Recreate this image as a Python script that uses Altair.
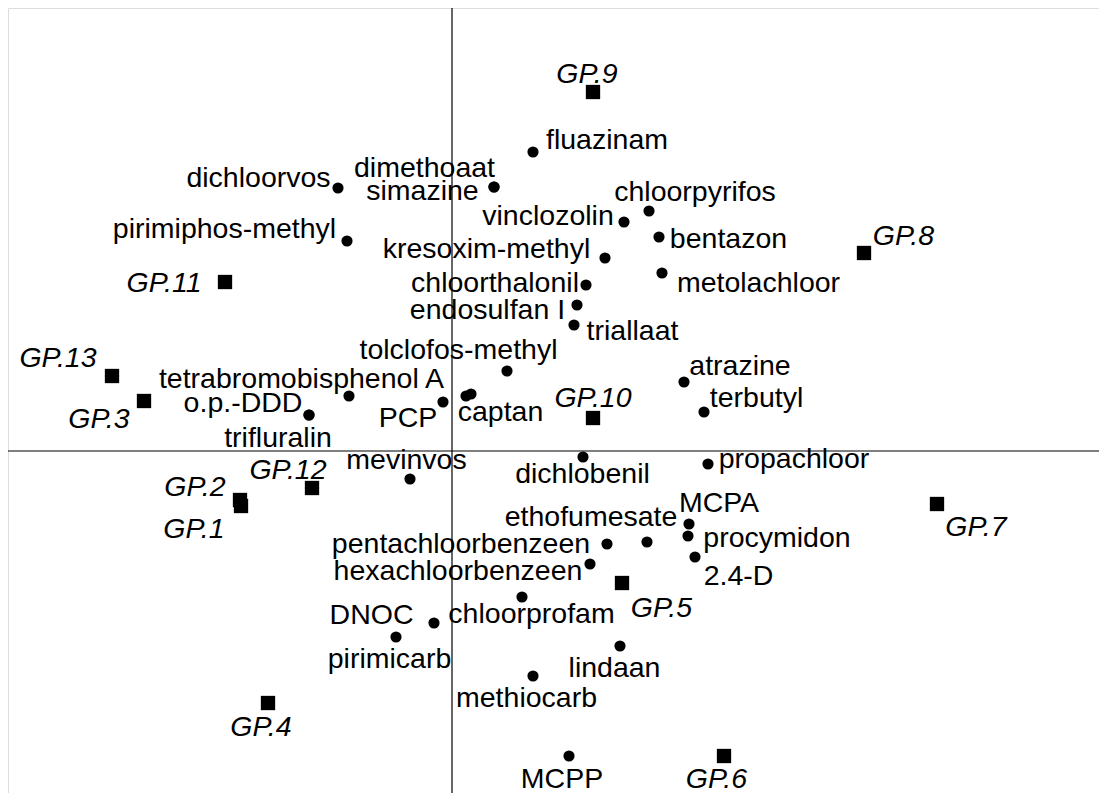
import altair as alt
import pandas as pd

# Compounds (circles): point coordinates and label anchor coordinates (data units)
compounds = ["fluazinam", "dichloorvos", "dimethoaat", "simazine", "pirimiphos-methyl",
             "chloorpyrifos", "vinclozolin", "bentazon", "kresoxim-methyl", "metolachloor",
             "chloorthalonil", "endosulfan I", "triallaat", "tolclofos-methyl", "atrazine",
             "terbutyl", "tetrabromobisphenol A", "PCP", "captan", "", "o.p.-DDD",
             "trifluralin", "mevinvos", "dichlobenil", "propachloor", "MCPA", "ethofumesate",
             "procymidon", "pentachloorbenzeen", "2.4-D", "hexachloorbenzeen", "chloorprofam",
             "DNOC", "pirimicarb", "lindaan", "methiocarb", "MCPP"]
comp_x = [0.81, -1.14, 0.42, 0.42, -1.05, 1.97, 1.72, 2.07, 1.53, 2.10, 1.34, 1.25, 1.22,
          0.55, 2.32, 2.52, -1.03, -0.09, 0.14, 0.19, -1.43, -1.43, -0.42, 1.31, 2.56,
          2.37, 1.95, 2.36, 1.55, 2.43, 1.38, 0.70, -0.18, -0.56, 1.68, 0.81, 1.17]
comp_y = [2.99, 2.63, 2.64, 2.64, 2.10, 2.40, 2.29, 2.14, 1.93, 1.78, 1.66, 1.46, 1.26,
          0.80, 0.69, 0.39, 0.55, 0.49, 0.55, 0.57, 0.36, 0.36, -0.28, -0.06, -0.13,
          -0.73, -0.91, -0.85, -0.93, -1.06, -1.13, -1.46, -1.72, -1.86, -1.95, -2.25, -3.05]
comp_lx = [1.55, -1.935, -0.275, -0.295, -2.275, 2.43, 0.96, 2.765, 0.345, 3.065, 0.43,
           0.355, 1.805, 0.065, 2.88, 3.045, -1.505, -0.44, 0.485, 0.19, -2.09, -1.74,
           -0.455, 1.305, 3.42, 2.67, 1.39, 3.25, 0.09, 2.865, 0.06, 0.795, -0.805, -0.625,
           1.625, 0.745, 1.10]
comp_ly = [3.02, 2.64, 2.74, 2.51, 2.13, 2.50, 2.26, 2.03, 1.93, 1.59, 1.59, 1.32, 1.11,
           0.92, 0.76, 0.44, 0.63, 0.24, 0.30, 0.57, 0.39, 0.04, -0.18, -0.32, -0.17,
           -0.61, -0.75, -0.96, -1.02, -1.34, -1.29, -1.72, -1.73, -2.17, -2.26, -2.56, -3.37]

# Sites (squares)
sites = ["GP.1", "GP.2", "GP.3", "GP.4", "GP.5", "GP.6", "GP.7", "GP.8", "GP.9",
         "GP.10", "GP.11", "GP.12", "GP.13"]
site_x = [-2.11, -2.12, -3.08, -1.84, 1.70, 2.72, 4.85, 4.12, 1.41, 1.41, -2.27, -1.40, -3.40]
site_y = [-0.55, -0.49, 0.50, -2.52, -1.32, -3.05, -0.53, 1.98, 3.59, 0.33, 1.69, -0.37, 0.75]
site_lx = [-2.58, -2.57, -3.53, -1.91, 2.095, 2.645, 5.24, 4.515, 1.35, 1.41, -2.88, -1.64, -3.94]
site_ly = [-0.87, -0.45, 0.23, -2.85, -1.66, -3.37, -0.85, 2.06, 3.68, 0.44, 1.59, -0.28, 0.84]

comp_df = pd.DataFrame({"name": compounds, "x": comp_x, "y": comp_y,
                        "lx": comp_lx, "ly": comp_ly})
site_df = pd.DataFrame({"name": sites, "x": site_x, "y": site_y,
                        "lx": site_lx, "ly": site_ly})
origin_df = pd.DataFrame({"x": [0.0], "y": [0.0]})

W, H = 1091, 785
xs = alt.Scale(domain=[-4.44, 6.47], nice=False, zero=False)
ys = alt.Scale(domain=[-3.42, 4.43], nice=False, zero=False)
FONT = "Liberation Sans"
FS = 28.5

vline = alt.Chart(origin_df).mark_rule(color="black", strokeWidth=1.2).encode(
    x=alt.X("x:Q", scale=xs, axis=None))
hline = alt.Chart(origin_df).mark_rule(color="black", strokeWidth=1.2).encode(
    y=alt.Y("y:Q", scale=ys, axis=None))

pts = alt.Chart(comp_df).mark_point(shape="circle", filled=True, color="black",
                                     size=125, opacity=1).encode(
    x=alt.X("x:Q", scale=xs, axis=None), y=alt.Y("y:Q", scale=ys, axis=None))
sq = alt.Chart(site_df).mark_point(shape="square", filled=True, color="black",
                                    size=205, opacity=1).encode(
    x=alt.X("x:Q", scale=xs, axis=None), y=alt.Y("y:Q", scale=ys, axis=None))

comp_txt = alt.Chart(comp_df).mark_text(font=FONT, fontSize=FS, color="black",
                                         align="center", baseline="alphabetic").encode(
    x=alt.X("lx:Q", scale=xs, axis=None), y=alt.Y("ly:Q", scale=ys, axis=None),
    text="name:N")
site_txt = alt.Chart(site_df).mark_text(font=FONT, fontSize=FS, fontStyle="italic",
                                         color="black", align="center",
                                         baseline="alphabetic").encode(
    x=alt.X("lx:Q", scale=xs, axis=None), y=alt.Y("ly:Q", scale=ys, axis=None),
    text="name:N")

chart = alt.layer(vline, hline, pts, sq, comp_txt, site_txt).properties(
    width=W, height=H, padding=0,
    autosize=alt.AutoSizeParams(type="none"),
).configure_view(stroke="transparent", strokeWidth=0).configure(background="white")

chart.save("out.html", embed_options={"renderer": "svg", "actions": False})
